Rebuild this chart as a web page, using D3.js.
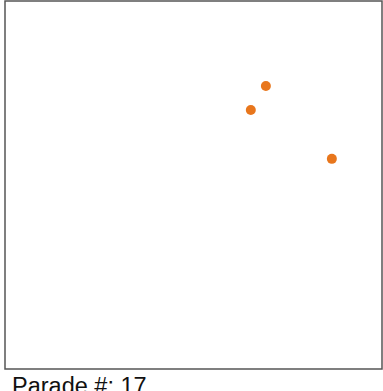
<!DOCTYPE html>
<html>
<head>
<meta charset="utf-8">
<script src="https://cdn.jsdelivr.net/npm/d3@7"></script>
<style>
  body { margin: 0; background: #fff; }
  svg { display: block; }
</style>
</head>
<body>
<div id="area"></div>
<script>
var width = 383, height = 391;
var margin_left = 5, margin_top = 1, margin_right = 1, margin_bottom = 22;

// data
var xs = [0.692, 0.652, 0.867];
var ys = [0.769, 0.704, 0.571];
var label = "Parade #: 17";

var svg = d3.select("#area")
.append("svg")
  .attr("width", width)
  .attr("height", height);

var x = d3.scaleLinear()
.domain([0, 1])
.range([margin_left, width - margin_right]);

var y = d3.scaleLinear()
.domain([0, 1])
.range([height - margin_bottom, margin_top]);

// frame
svg.append("rect")
  .attr("x", x(0))
  .attr("y", y(1))
  .attr("width", x(1) - x(0))
  .attr("height", y(0) - y(1))
  .style("fill", "none")
  .style("stroke", "#555")
  .style("stroke-width", 1.5);

svg.selectAll("circle")
.data(xs)
.enter()
.append("circle")
  .attr("cx", function(d) { return x(d); })
  .attr("cy", function(d, i) { return y(ys[i]); })
  .attr("r", 5)
  .style("fill", "#e8761c");

svg.append("text")
  .attr("x", 12)
  .attr("y", 394)
  .style("font-family", "Liberation Sans, Arial, sans-serif")
  .style("font-size", "23.5px")
  .style("fill", "#111")
  .text(label);
</script>
</body>
</html>
